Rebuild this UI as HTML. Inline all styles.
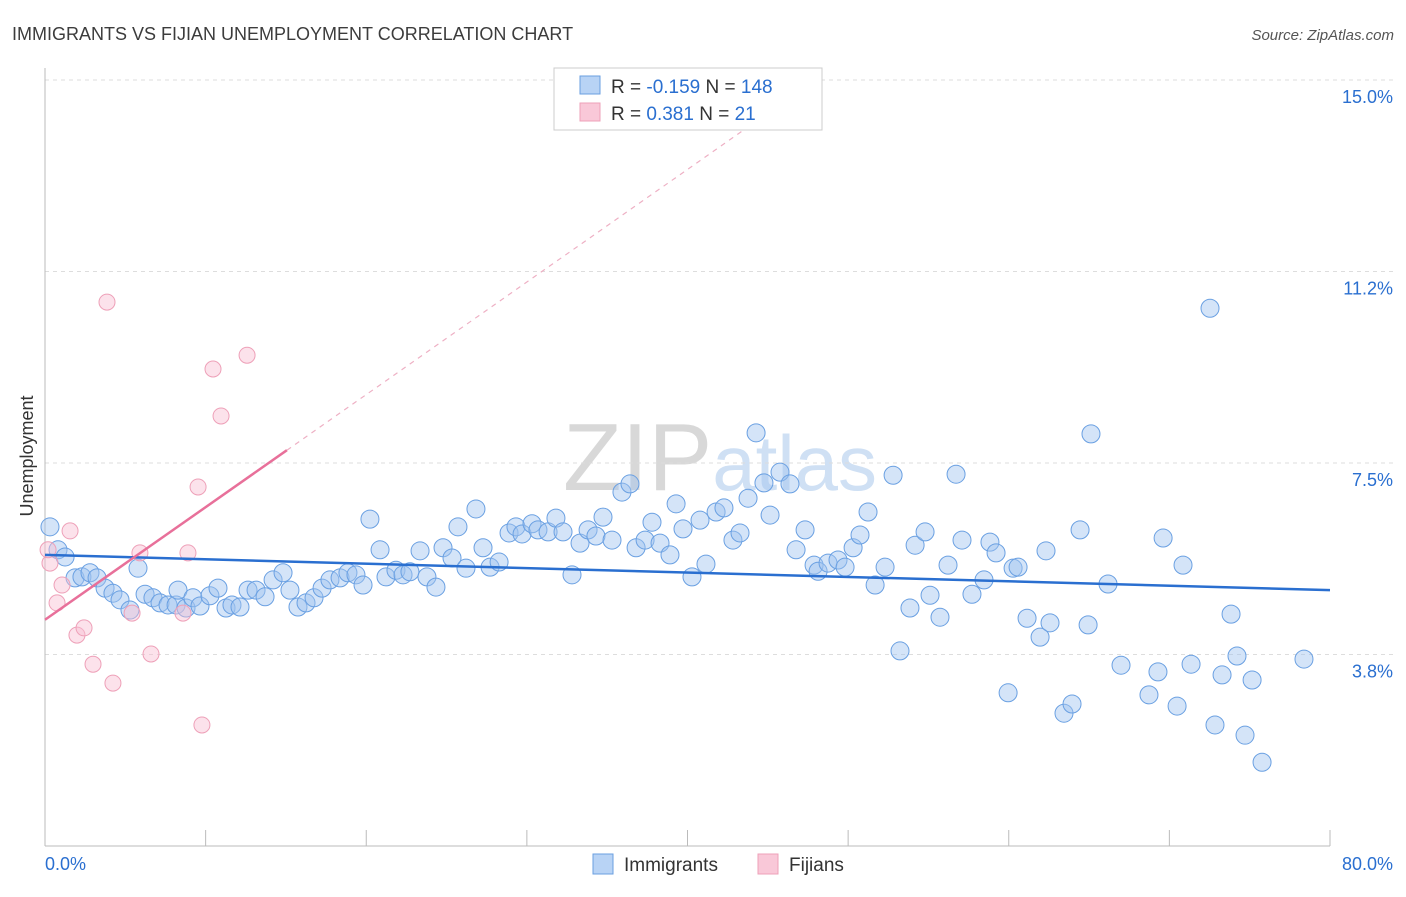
<!DOCTYPE html>
<html><head><meta charset="utf-8">
<style>
body{margin:0;background:#fff;font-family:"Liberation Sans",sans-serif;}
svg text{font-family:"Liberation Sans",sans-serif;}
</style></head>
<body>
<svg id="chart" width="1406" height="892" viewBox="0 0 1406 892" xmlns="http://www.w3.org/2000/svg">
<text x="12" y="40" font-size="18" fill="#3c3c3c">IMMIGRANTS VS FIJIAN UNEMPLOYMENT CORRELATION CHART</text>
<text x="1394" y="40" font-size="15" fill="#555" font-style="italic" text-anchor="end">Source: ZipAtlas.com</text>
<text x="720" y="490" font-size="96" fill="#ddd" text-anchor="middle" font-family="Liberation Serif"><tspan fill="#d8d8d8">ZIP</tspan><tspan fill="#cfe0f4" font-family="Liberation Sans" font-size="78">atlas</tspan></text>
<g id="grid"></g>
<g id="axes"></g>
<g id="pts"></g>
<g id="lines"></g>
<text transform="translate(33,456) rotate(-90)" font-size="18" fill="#333" text-anchor="middle">Unemployment</text>
<g>
<rect x="554" y="68" width="268" height="62" fill="#fff" stroke="#ccc"/>
<rect x="580" y="76" width="20" height="18" fill="#b8d3f5" stroke="#6a9fe0"/>
<rect x="580" y="103" width="20" height="18" fill="#f9c8d8" stroke="#eea0b8"/>
<text x="611" y="93" font-size="19" fill="#333">R = <tspan fill="#2a6fd0">-0.159</tspan>   N = <tspan fill="#2a6fd0">148</tspan></text>
<text x="611" y="120" font-size="19" fill="#333">R =  <tspan fill="#2a6fd0"> 0.381</tspan>   N =   <tspan fill="#2a6fd0">21</tspan></text>
</g>
<g>
<rect x="593" y="854" width="20" height="20" fill="#b8d3f5" stroke="#6a9fe0"/>
<text x="624" y="871" font-size="19" fill="#333">Immigrants</text>
<rect x="758" y="854" width="20" height="20" fill="#f9c8d8" stroke="#eea0b8"/>
<text x="789" y="871" font-size="19" fill="#333">Fijians</text>
</g>
</svg>
<script>
const yTicks=[15.0,11.25,7.5,3.75];
const yTickLabels=["15.0%","11.2%","7.5%","3.8%"];
const xTickVals=[0,10,20,30,40,50,60,70,80];
const blueX=[.31,.81,1.25,1.87,2.30,2.80,3.24,3.74,4.23,4.67,5.29,5.79,6.23,6.72,7.16,7.66,8.16,8.28,8.78,9.21,9.65,10.27,10.77,11.27,11.64,12.14,12.64,13.14,13.70,14.20,14.82,15.25,15.75,16.25,16.75,17.25,17.74,18.37,18.86,19.36,19.80,20.23,20.86,21.23,21.85,22.29,22.72,23.35,23.78,24.34,24.78,25.34,25.71,26.21,26.83,27.27,27.71,28.27,28.89,29.32,29.70,30.32,30.69,31.32,31.81,32.25,32.81,33.31,33.81,34.30,34.74,35.30,35.92,36.42,36.80,37.36,37.79,38.29,38.91,39.29,39.72,40.28,40.78,41.15,41.78,42.27,42.83,43.27,43.77,44.27,44.76,45.14,45.76,46.38,46.76,47.32,47.88,48.13,48.75,49.37,49.81,50.31,50.74,51.24,51.68,52.30,52.80,53.23,53.85,54.17,54.79,55.10,55.72,56.22,56.72,57.09,57.71,58.46,58.83,59.21,59.96,60.27,60.58,61.14,61.95,62.32,62.57,63.44,63.94,64.44,64.94,65.12,66.18,66.99,68.73,69.29,69.61,70.48,70.85,71.35,72.53,72.84,73.28,73.84,74.21,74.71,75.15,75.77,78.38];
const blueY=[6.25,5.80,5.66,5.25,5.27,5.35,5.25,5.05,4.95,4.82,4.62,5.44,4.93,4.86,4.76,4.72,4.72,5.01,4.66,4.86,4.70,4.90,5.05,4.66,4.72,4.68,5.01,5.01,4.88,5.21,5.35,5.01,4.68,4.76,4.86,5.05,5.21,5.25,5.35,5.31,5.11,6.40,5.80,5.27,5.40,5.31,5.37,5.78,5.27,5.07,5.84,5.64,6.25,5.44,6.60,5.84,5.46,5.56,6.13,6.25,6.11,6.31,6.19,6.15,6.42,6.15,5.31,5.93,6.19,6.07,6.44,5.99,6.93,7.09,5.84,5.99,6.34,5.93,5.70,6.70,6.21,5.27,6.38,5.52,6.54,6.62,5.99,6.13,6.81,8.09,7.11,6.48,7.32,7.09,5.80,6.19,5.50,5.38,5.54,5.60,5.46,5.84,6.09,6.54,5.11,5.46,7.26,3.82,4.66,5.89,6.15,4.91,4.48,5.50,7.28,5.99,4.93,5.21,5.95,5.74,3.00,5.44,5.46,4.46,4.09,5.78,4.37,2.60,2.78,6.19,4.33,8.07,5.13,3.54,2.96,3.41,6.03,2.74,5.50,3.56,10.53,2.37,3.35,4.54,3.72,2.17,3.25,1.64,3.66];
const pinkX=[.31,.75,1.06,1.56,1.99,2.43,2.99,3.86,4.23,5.42,5.91,6.60,8.59,8.90,9.53,9.77,10.46,10.96,12.58,.19];
const pinkY=[5.54,4.76,5.11,6.17,4.13,4.27,3.56,10.65,3.19,4.56,5.74,3.76,4.56,5.74,7.03,2.37,9.34,8.42,9.61,5.80];
const blueTrend=[5.70,5.01];
const pinkTrend=[4.43,7.75];
const pinkTrendEnd=15.06;

const NS="http://www.w3.org/2000/svg";
const X=v=>45+v/80*1285;
const Y=v=>846-v*51.07;
function mk(tag,attrs,parent){const e=document.createElementNS(NS,tag);for(const k in attrs)e.setAttribute(k,attrs[k]);parent.appendChild(e);return e;}
const grid=document.getElementById('grid'),axes=document.getElementById('axes'),pts=document.getElementById('pts'),lines=document.getElementById('lines');
yTicks.forEach((t,i)=>{
 const l=mk('line',{x1:45,x2:1394,y1:Y(t),y2:Y(t),stroke:'#ddd','stroke-dasharray':'4,4'},grid);
 
 
 const tx=mk('text',{x:1393,y:Y(t)+23,'font-size':18,fill:'#2a6fd0','text-anchor':'end'},axes);
 tx.textContent=yTickLabels[i];
 
 
});
const ya=mk('line',{x1:45,x2:45,y1:68,y2:846,stroke:'#bbb'},axes);


const xa=mk('line',{x1:45,x2:1330,y1:846,y2:846,stroke:'#bbb'},axes);


xTickVals.forEach(v=>{
 const t=mk('line',{x1:X(v),x2:X(v),y1:830,y2:846,stroke:'#bbb'},axes);
 
 
});
const xl0=mk('text',{x:45,y:870,'font-size':18,fill:'#2a6fd0'},axes);xl0.textContent='0.0%';


const xl1=mk('text',{x:1393,y:870,'font-size':18,fill:'#2a6fd0','text-anchor':'end'},axes);xl1.textContent='80.0%';


blueX.forEach((v,i)=>{
 const c=mk('circle',{cx:X(v),cy:Y(blueY[i]),r:9,fill:'rgba(160,196,240,0.45)',stroke:'#6aa0e2','stroke-width':1},pts);
 
 
});
pinkX.forEach((v,i)=>{
 const c=mk('circle',{cx:X(v),cy:Y(pinkY[i]),r:8,fill:'rgba(248,190,210,0.45)',stroke:'#eea0b8','stroke-width':1},pts);
 
 
});
const bl=mk('line',{x1:X(0),y1:Y(blueTrend[0]),x2:X(80),y2:Y(blueTrend[1]),stroke:'#2a6fd0','stroke-width':2.5},lines);


const slope=(pinkTrend[1]-pinkTrend[0])/pinkTrendEnd;
const pl=mk('line',{x1:X(0),y1:Y(pinkTrend[0]),x2:X(pinkTrendEnd),y2:Y(pinkTrend[1]),stroke:'#e8709a','stroke-width':2.5},lines);


const xe=(15-pinkTrend[0])/slope*0.985;
const pd=mk('line',{x1:X(pinkTrendEnd),y1:Y(pinkTrend[1]),x2:X(xe),y2:Y(pinkTrend[0]+slope*xe),stroke:'#eeb0c4','stroke-width':1.2,'stroke-dasharray':'5,5'},lines);


</script>
</body></html>
